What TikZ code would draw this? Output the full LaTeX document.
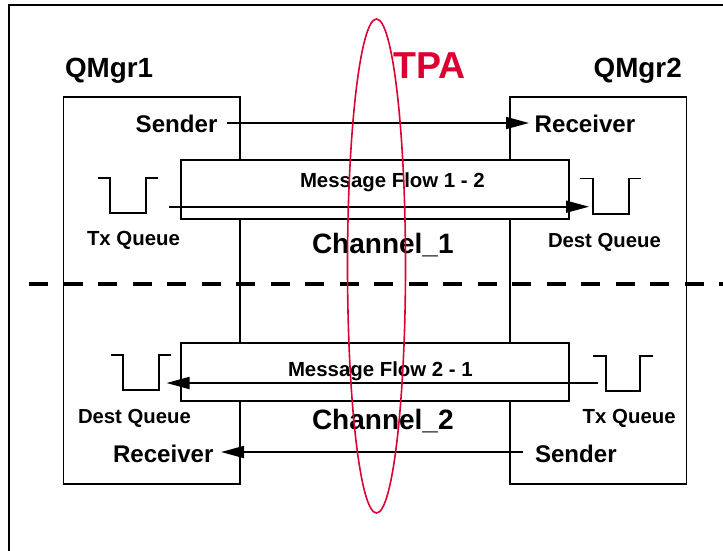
\documentclass[tikz,border=0pt]{standalone}
\usepackage{fontspec}
\setmainfont{Liberation Sans}
\usetikzlibrary{arrows.meta,shapes.geometric}
\definecolor{tpared}{RGB}{220,0,50}
\tikzset{
  x=1pt,y=-1pt,
  lab/.style={anchor=base west,inner sep=0pt,outer sep=0pt,font=\bfseries\fontsize{#1}{#1}\selectfont},
  mgrbox/.style={draw=black,line width=1.7pt,fill=white,minimum width=176.5pt,minimum height=387pt,inner sep=0pt},
  flowbox/.style={draw=black,line width=1.7pt,fill=white,minimum width=388pt,minimum height=58.5pt,inner sep=0pt},
  conn/.style={draw=black,line width=1.7pt,-{Triangle[length=23pt,width=12pt]}},
  queue/.style={draw=black,line width=1.6pt},
  frameline/.style={draw=black,line width=2.2pt},
  divider/.style={draw=black,line width=3.6pt,dash pattern=on 19pt off 15.5pt},
  tpa/.style={draw=tpared,line width=1.6pt,ellipse,inner sep=0pt,minimum width=58pt,minimum height=494pt}
}
\begin{document}
\begin{tikzpicture}
\useasboundingbox (0,0) rectangle (723,550);
% outer frame
\coordinate (fa) at (9,552);
\coordinate (fb) at (9,5);
\coordinate (fc) at (725,5);
\draw[frameline] (fa) -- (fb) -- (fc);
% manager boxes
\node[mgrbox] (qm1) at (151.75,290.5) {};
\node[mgrbox] (qm2) at (598.25,290.5) {};
% divider
\coordinate (da) at (29,284);
\coordinate (db) at (725,284);
\draw[divider] (da) -- (db);
% message flow boxes
\node[flowbox] (mf1) at (375,189.5) {};
\node[flowbox] (mf2) at (375,372) {};
% labels
\node[lab=27.8] (t1) at (65,77) {QMgr1};
\node[lab=27.8] (t2) at (593.7,77) {QMgr2};
\node[lab=24.1] (s1) at (135.7,132.7) {Sender};
\node[lab=24.1] (r2) at (534.7,132.7) {Receiver};
\node[lab=20.4] (m1) at (300,187) {Message Flow 1 - 2};
\node[lab=20.4] (m2) at (288,376) {Message Flow 2 - 1};
\node[lab=20.4] (tq1) at (87,245) {Tx Queue};
\node[lab=20.3] (dq2) at (548,247) {Dest Queue};
\node[lab=20.3] (dq1) at (78,423) {Dest Queue};
\node[lab=20.4] (tq2) at (582.7,423) {Tx Queue};
\node[lab=28] (c1) at (312,253) {Channel\_1};
\node[lab=28] (c2) at (312,429) {Channel\_2};
\node[lab=24.1] (r1) at (113,462) {Receiver};
\node[lab=24.1] (s2) at (535,462) {Sender};
% queues
\draw[queue] (97.5,178) -- (110,178) -- (110,213) -- (146,213) -- (146,178) -- (158,178);
\draw[queue] (580,178.5) -- (593,178.5) -- (593,214) -- (629,214) -- (629,178.5) -- (641,178.5);
\draw[queue] (110.5,355) -- (123,355) -- (123,390) -- (159,390) -- (159,355) -- (171,355);
\draw[queue] (593,356) -- (606,356) -- (606,391) -- (640,391) -- (640,356) -- (653,356);
% connectors
\coordinate (a1) at (227,123);
\coordinate (a2) at (529,123);
\coordinate (b1) at (169,206.7);
\coordinate (b2) at (589,206.7);
\coordinate (c3) at (598,383);
\coordinate (c4) at (166.5,383);
\coordinate (d1) at (523,452);
\coordinate (d2) at (221,452);
\draw[conn] (a1) -- (a2);
\draw[conn] (b1) -- (b2);
\draw[conn] (c3) -- (c4);
\draw[conn] (d1) -- (d2);
% TPA
\node[tpa] (ell) at (376.5,266) {};
\node[lab=37.5,text=tpared] (tp) at (393.5,78.5) {TPA};
\end{tikzpicture}
\end{document}
